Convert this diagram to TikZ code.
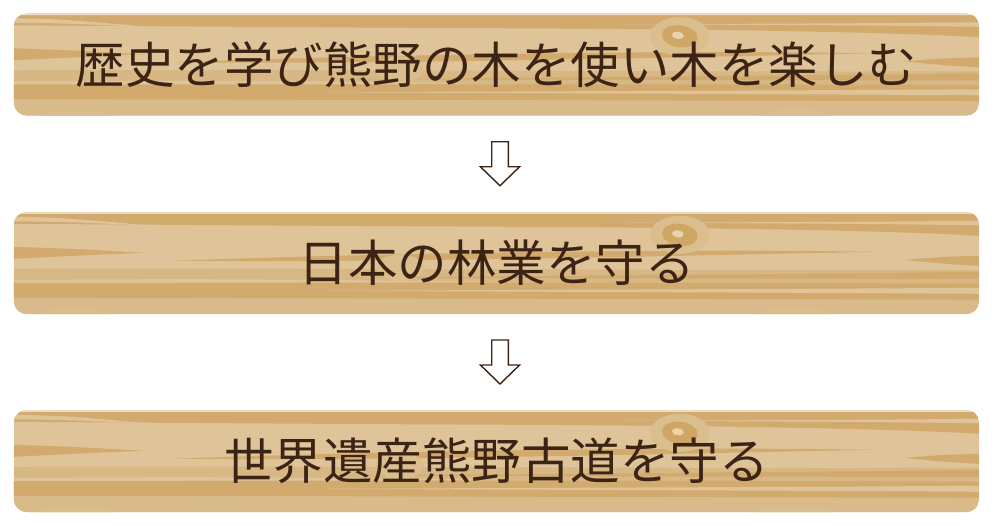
\documentclass[tikz,border=0pt]{standalone}
\usepackage{fontspec}
\newfontfamily\jpfont{Noto Sans CJK JP}
\usetikzlibrary{calc}
\definecolor{woodlight}{HTML}{DFC499}
\definecolor{wooddark}{HTML}{D2AA6E}
\definecolor{woodmid}{HTML}{D7B784}
\definecolor{woodlow}{HTML}{D9BB8B}
\definecolor{woodhalo}{HTML}{DBBE8E}
\definecolor{knotring}{HTML}{CFA665}
\definecolor{knotcore}{HTML}{E8D3AB}
\definecolor{inkbrown}{HTML}{3C2415}
\newcommand\woodgrainat[1]{%
  \begin{scope}
    \clip[rounded corners=13pt] (#1.south west) rectangle (#1.north east);
    \begin{scope}[shift={(#1.north west)}, y=-1pt]
    % top band
    \fill[wooddark] (0,2) -- (965,2) -- (965,24) .. controls (900,20) and (750,16) .. (500,15) .. controls (300,14) .. (0,12) -- cycle;
    \fill[woodlight] (965,9) .. controls (850,10) .. (600,11) .. controls (850,12) .. (965,13.5) -- cycle;
    \fill[woodlight] (0,5) .. controls (50,6) .. (140,14) .. controls (50,10) .. (0,9.5) -- cycle;
    \fill[woodlight!60!white] (0,0) rectangle (965,2);
    % middle stripes
    \fill[wooddark] (0,35) .. controls (60,37) .. (130,41) .. controls (60,44) .. (0,47) -- cycle;
    \fill[wooddark] (160,49) .. controls (400,40) and (700,37) .. (860,40) .. controls (700,43) and (400,51) .. (160,49) -- cycle;
    \fill[wooddark] (890,48) .. controls (930,45) .. (965,44) -- (965,54) .. controls (930,52) .. (890,48) -- cycle;
    % lower bands
    \fill[woodmid] (0,57) .. controls (300,56) and (700,59) .. (965,58) -- (965,88) -- (0,86) -- cycle;
    \fill[wooddark] (0,71) .. controls (300,72) and (700,70) .. (965,72) -- (965,88) -- (0,86) -- cycle;
    \fill[wooddark] (965,60) .. controls (800,62) .. (330,66) .. controls (800,67) .. (965,67) -- cycle;
    \fill[woodlight] (0,68) .. controls (200,67) .. (500,70) .. controls (200,71) .. (0,71) -- cycle;
    \fill[woodlight] (965,76) .. controls (800,77) .. (300,79) .. controls (800,81) .. (965,82) -- cycle;
    \fill[woodlow] (0,86) .. controls (400,87) .. (965,88) -- (965,110) -- (0,110) -- cycle;
    % knots
    \fill[woodhalo] (386,56) ellipse [x radius=24pt, y radius=13pt];
    \fill[woodhalo] (62,108) ellipse [x radius=44pt, y radius=11pt];
    \fill[woodhalo] (780,108) ellipse [x radius=44pt, y radius=12pt];
    \fill[woodhalo] (666,23) ellipse [x radius=30pt, y radius=19pt];
    \fill[knotring, rotate around={-8:(666,23)}] (666,23) ellipse [x radius=18pt, y radius=11pt];
    \fill[knotcore, rotate around={-8:(664,22)}] (664,22) ellipse [x radius=6pt, y radius=3.5pt];
    \end{scope}
  \end{scope}}
\tikzset{
  plankbox/.style={rectangle, rounded corners=13pt, minimum width=965pt, minimum height=102pt,
    inner sep=0pt, fill=woodlight},
  planktext/.style={inner sep=0pt, text=inkbrown, font=\jpfont\fontsize{49.5pt}{56pt}\selectfont},
  blockarrow/.style={draw=inkbrown, fill=white, line width=1.4pt, line join=miter}
}
\begin{document}
\begin{tikzpicture}[x=1pt, y=1pt]
  \useasboundingbox (0,0) rectangle (995,525);
  \node[plankbox] (p1) at (496.5,460.5) {};
  \node[plankbox] (p2) at (496.5,262) {};
  \node[plankbox] (p3) at (496.5,64) {};
  \woodgrainat{p1}
  \woodgrainat{p2}
  \woodgrainat{p3}
  \node[planktext] (t1) at (p1) {歴史を学び熊野の木を使い木を楽しむ};
  \node[planktext] (t2) at (p2) {日本の林業を守る};
  \node[planktext] (t3) at (p3) {世界遺産熊野古道を守る};
  \coordinate (a1) at ($(p1.south)!0.5!(p2.north)+(3.5,0)$);
  \coordinate (a2) at ($(p2.south)!0.5!(p3.north)+(3.5,0)$);
  \foreach \c in {a1,a2}{
    \begin{scope}[shift={(\c)}]
      \draw[blockarrow] (-8.3,22) -- (8.3,22) -- (8.3,-3) -- (19.6,-3) -- (0,-22) -- (-19.6,-3) -- (-8.3,-3) -- cycle;
    \end{scope}
  }
\end{tikzpicture}
\end{document}
